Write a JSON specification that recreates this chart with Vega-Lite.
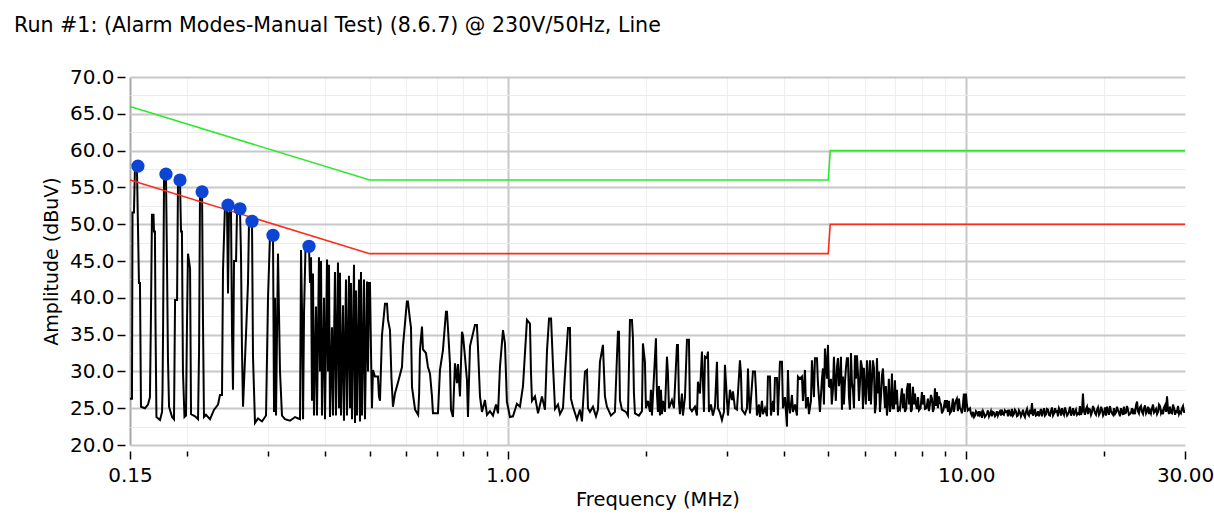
{
  "$schema": "https://vega.github.io/schema/vega-lite/v6.json",
  "width": 1055,
  "height": 368,
  "autosize": {"type": "none"},
  "padding": {"left": 130, "top": 77, "right": 29, "bottom": 76},
  "background": "white",
  "config": {"view": {"stroke": null}, "font": "DejaVu Sans"},
  "title": {"text": "Run #1: (Alarm Modes-Manual Test) (8.6.7) @ 230V/50Hz, Line", "anchor": "start", "frame": "group", "dx": -116, "offset": 30, "fontSize": 20.6, "fontWeight": "normal", "font": "DejaVu Sans", "color": "black"},
  "datasets": {
    "spec": [
      {"f":0.1500,"a":26.3},{"f":0.1515,"a":26.3},{"f":0.1519,"a":51.6},{"f":0.1530,"a":51.6},{"f":0.1538,"a":57.9},{"f":0.1553,"a":57.9},{"f":0.1561,"a":50.0},{"f":0.1569,"a":42.0},{"f":0.1577,"a":42.0},{"f":0.1585,"a":25.2},{"f":0.1617,"a":25.0},{"f":0.1642,"a":25.5},{"f":0.1658,"a":26.5},{"f":0.1666,"a":37.0},{"f":0.1675,"a":51.3},{"f":0.1688,"a":51.3},{"f":0.1692,"a":49.0},{"f":0.1700,"a":49.0},{"f":0.1705,"a":36.5},{"f":0.1713,"a":23.8},{"f":0.1744,"a":23.4},{"f":0.1762,"a":24.5},{"f":0.1766,"a":27.3},{"f":0.1771,"a":35.6},{"f":0.1780,"a":56.8},{"f":0.1797,"a":56.8},{"f":0.1806,"a":45.2},{"f":0.1815,"a":31.8},{"f":0.1825,"a":25.2},{"f":0.1853,"a":23.8},{"f":0.1871,"a":23.5},{"f":0.1881,"a":39.7},{"f":0.1900,"a":39.7},{"f":0.1909,"a":56.0},{"f":0.1928,"a":56.0},{"f":0.1938,"a":49.0},{"f":0.1947,"a":49.0},{"f":0.1957,"a":30.0},{"f":0.1972,"a":23.8},{"f":0.1987,"a":24.0},{"f":0.1997,"a":36.4},{"f":0.2007,"a":46.0},{"f":0.2028,"a":44.0},{"f":0.2038,"a":24.2},{"f":0.2080,"a":23.9},{"f":0.2111,"a":23.5},{"f":0.2122,"a":33.0},{"f":0.2132,"a":54.4},{"f":0.2154,"a":54.4},{"f":0.2164,"a":37.0},{"f":0.2175,"a":23.8},{"f":0.2197,"a":24.1},{"f":0.2242,"a":23.5},{"f":0.2288,"a":24.8},{"f":0.2334,"a":25.5},{"f":0.2357,"a":26.8},{"f":0.2381,"a":26.8},{"f":0.2393,"a":43.8},{"f":0.2417,"a":52.6},{"f":0.2441,"a":52.6},{"f":0.2454,"a":40.6},{"f":0.2466,"a":51.5},{"f":0.2491,"a":51.9},{"f":0.2504,"a":35.0},{"f":0.2516,"a":27.5},{"f":0.2529,"a":45.0},{"f":0.2555,"a":45.0},{"f":0.2568,"a":52.1},{"f":0.2606,"a":52.1},{"f":0.2619,"a":46.0},{"f":0.2632,"a":33.0},{"f":0.2646,"a":25.2},{"f":0.2686,"a":35.0},{"f":0.2713,"a":42.0},{"f":0.2727,"a":50.4},{"f":0.2768,"a":50.4},{"f":0.2782,"a":32.0},{"f":0.2810,"a":23.0},{"f":0.2853,"a":23.6},{"f":0.2911,"a":23.2},{"f":0.2970,"a":24.0},{"f":0.3000,"a":40.0},{"f":0.3030,"a":48.5},{"f":0.3076,"a":48.5},{"f":0.3092,"a":24.5},{"f":0.3107,"a":40.0},{"f":0.3123,"a":24.0},{"f":0.3154,"a":46.0},{"f":0.3186,"a":30.0},{"f":0.3218,"a":24.0},{"f":0.3267,"a":23.5},{"f":0.3350,"a":23.3},{"f":0.3436,"a":23.8},{"f":0.3523,"a":23.5},{"f":0.3541,"a":46.5},{"f":0.3559,"a":38.0},{"f":0.3577,"a":23.5},{"f":0.3595,"a":38.0},{"f":0.3622,"a":47.0},{"f":0.3686,"a":47.0},{"f":0.3704,"a":42.0},{"f":0.3723,"a":45.5},{"f":0.3741,"a":26.0},{"f":0.3760,"a":43.3},{"f":0.3779,"a":24.0},{"f":0.3817,"a":38.8},{"f":0.3836,"a":24.0},{"f":0.3875,"a":45.5},{"f":0.3895,"a":30.0},{"f":0.3915,"a":45.0},{"f":0.3934,"a":24.0},{"f":0.3974,"a":40.0},{"f":0.3994,"a":23.5},{"f":0.4035,"a":45.2},{"f":0.4055,"a":30.0},{"f":0.4075,"a":44.5},{"f":0.4095,"a":23.8},{"f":0.4136,"a":36.0},{"f":0.4157,"a":24.0},{"f":0.4199,"a":43.5},{"f":0.4220,"a":24.0},{"f":0.4263,"a":44.8},{"f":0.4284,"a":25.0},{"f":0.4306,"a":43.4},{"f":0.4328,"a":24.0},{"f":0.4371,"a":39.0},{"f":0.4393,"a":23.3},{"f":0.4438,"a":42.5},{"f":0.4460,"a":24.0},{"f":0.4505,"a":43.0},{"f":0.4528,"a":25.0},{"f":0.4551,"a":42.0},{"f":0.4574,"a":23.5},{"f":0.4620,"a":44.5},{"f":0.4643,"a":23.0},{"f":0.4667,"a":41.0},{"f":0.4690,"a":24.0},{"f":0.4738,"a":42.5},{"f":0.4761,"a":23.2},{"f":0.4785,"a":43.5},{"f":0.4809,"a":24.0},{"f":0.4858,"a":42.5},{"f":0.4882,"a":23.5},{"f":0.4932,"a":42.2},{"f":0.4957,"a":30.0},{"f":0.4982,"a":42.0},{"f":0.5006,"a":42.0},{"f":0.5031,"a":33.0},{"f":0.5056,"a":25.0},
      {"f":0.5082,"a":30.2},{"f":0.5133,"a":29.3},{"f":0.5211,"a":29.3},{"f":0.5237,"a":26.6},{"f":0.5264,"a":26.0},{"f":0.5317,"a":34.9},{"f":0.5398,"a":39.2},{"f":0.5453,"a":39.2},{"f":0.5480,"a":37.0},{"f":0.5535,"a":35.6},{"f":0.5577,"a":29.0},{"f":0.5619,"a":25.2},{"f":0.5675,"a":27.0},{"f":0.5762,"a":28.5},{"f":0.5879,"a":30.6},{"f":0.5908,"a":33.4},{"f":0.6026,"a":39.5},{"f":0.6057,"a":39.5},{"f":0.6120,"a":37.0},{"f":0.6151,"a":36.0},{"f":0.6182,"a":27.9},{"f":0.6279,"a":24.8},{"f":0.6376,"a":24.1},{"f":0.6408,"a":27.0},{"f":0.6435,"a":32.9},{"f":0.6500,"a":36.1},{"f":0.6532,"a":33.0},{"f":0.6631,"a":32.5},{"f":0.6698,"a":30.6},{"f":0.6767,"a":29.7},{"f":0.6835,"a":26.6},{"f":0.6869,"a":24.3},{"f":0.7043,"a":24.3},{"f":0.7115,"a":30.2},{"f":0.7222,"a":32.9},{"f":0.7332,"a":38.1},{"f":0.7369,"a":38.1},{"f":0.7406,"a":35.9},{"f":0.7481,"a":31.1},{"f":0.7519,"a":24.8},{"f":0.7594,"a":23.8},{"f":0.7671,"a":31.1},{"f":0.7748,"a":28.4},{"f":0.7787,"a":31.0},{"f":0.7867,"a":26.6},{"f":0.7946,"a":35.4},{"f":0.7986,"a":34.9},{"f":0.8066,"a":32.0},{"f":0.8148,"a":28.8},{"f":0.8189,"a":23.8},{"f":0.8272,"a":33.4},{"f":0.8481,"a":36.3},{"f":0.8566,"a":36.3},{"f":0.8609,"a":33.4},{"f":0.8698,"a":26.6},{"f":0.8786,"a":24.5},{"f":0.8919,"a":26.1},{"f":0.9010,"a":24.1},{"f":0.9146,"a":24.6},{"f":0.9285,"a":24.0},{"f":0.9428,"a":25.5},{"f":0.9523,"a":24.3},{"f":0.9617,"a":30.6},{"f":0.9763,"a":35.6},{"f":0.9861,"a":33.8},{"f":0.9957,"a":25.9},{"f":1.0112,"a":23.8},{"f":1.0265,"a":23.9},{"f":1.0470,"a":25.6},{"f":1.0633,"a":25.2},{"f":1.0795,"a":28.0},{"f":1.1013,"a":37.0},{"f":1.1180,"a":36.5},{"f":1.1236,"a":30.0},{"f":1.1293,"a":26.0},{"f":1.1466,"a":26.6},{"f":1.1641,"a":24.3},{"f":1.1874,"a":26.6},{"f":1.2056,"a":24.8},
      {"f":1.2180,"a":32.9},{"f":1.2305,"a":37.2},{"f":1.2429,"a":37.2},{"f":1.2556,"a":30.6},{"f":1.2680,"a":24.9},{"f":1.2870,"a":25.5},{"f":1.2998,"a":24.2},{"f":1.3195,"a":25.0},{"f":1.3331,"a":29.7},{"f":1.3534,"a":35.9},{"f":1.3667,"a":35.9},{"f":1.3736,"a":26.3},{"f":1.3874,"a":25.2},{"f":1.4155,"a":23.5},{"f":1.4371,"a":24.8},{"f":1.4516,"a":23.2},{"f":1.4739,"a":30.0},{"f":1.4886,"a":30.2},{"f":1.4962,"a":25.0},{"f":1.5111,"a":24.5},{"f":1.5340,"a":25.2},{"f":1.5574,"a":23.9},{"f":1.5732,"a":24.8},{"f":1.5889,"a":31.3},{"f":1.6129,"a":33.6},{"f":1.6292,"a":26.6},{"f":1.6455,"a":25.2},{"f":1.6791,"a":24.0},{"f":1.7130,"a":24.5},{"f":1.7306,"a":32.0},{"f":1.7393,"a":35.4},{"f":1.7480,"a":35.4},{"f":1.7568,"a":26.1},{"f":1.7745,"a":24.8},{"f":1.8101,"a":24.5},{"f":1.8288,"a":24.0},{"f":1.8473,"a":37.0},{"f":1.8659,"a":37.0},{"f":1.8753,"a":34.5},{"f":1.8847,"a":27.0},{"f":1.8942,"a":24.3},{"f":1.9326,"a":24.0},{"f":1.9620,"a":24.6},{"f":1.9717,"a":33.8},{"f":1.9914,"a":31.3},{"f":2.0016,"a":25.0},{"f":2.0220,"a":26.0},{"f":2.0424,"a":24.5},{"f":2.0527,"a":27.5},{"f":2.0630,"a":24.0},{"f":2.0839,"a":29.3},{"f":2.1048,"a":34.5},{"f":2.1154,"a":27.0},{"f":2.1260,"a":24.5},{"f":2.1368,"a":28.0},{"f":2.1476,"a":24.0},{"f":2.1584,"a":27.5},{"f":2.1692,"a":24.2},{"f":2.1802,"a":26.0},{"f":2.2020,"a":24.5},{"f":2.2245,"a":32.0},{"f":2.2357,"a":29.7},{"f":2.2469,"a":25.0},{"f":2.2810,"a":26.1},{"f":2.3040,"a":25.0},{"f":2.3390,"a":33.6},{"f":2.3507,"a":33.6},{"f":2.3625,"a":26.0},{"f":2.3745,"a":24.2},{"f":2.3985,"a":27.0},{"f":2.4105,"a":24.0},{"f":2.4351,"a":26.5},{"f":2.4596,"a":34.3},{"f":2.4842,"a":34.3},{"f":2.4968,"a":25.0},{"f":2.5220,"a":24.6},{"f":2.5604,"a":25.2},{"f":2.5860,"a":24.0},{"f":2.5990,"a":28.6},{"f":2.6254,"a":27.0},{"f":2.6519,"a":32.7},{"f":2.6787,"a":24.5},{"f":2.6924,"a":32.0},{"f":2.7194,"a":31.8},{"f":2.7331,"a":32.7},{"f":2.7467,"a":24.5},{"f":2.7745,"a":25.5},{"f":2.8024,"a":24.0},{"f":2.8310,"a":25.2},{"f":2.8595,"a":31.3},{"f":2.8738,"a":25.0},{"f":2.9027,"a":24.4},{"f":2.9320,"a":23.4},{"f":2.9617,"a":24.5},{"f":2.9766,"a":30.9},{"f":3.0066,"a":26.1},{"f":3.0217,"a":24.0},{"f":3.0523,"a":27.5},{"f":3.0830,"a":26.1},{"f":3.0987,"a":27.3},{"f":3.1302,"a":25.0},{"f":3.1617,"a":24.8},{"f":3.2095,"a":31.5},{"f":3.2257,"a":29.7},{"f":3.2419,"a":24.8},{"f":3.2914,"a":24.2},{"f":3.3246,"a":25.0},{"f":3.3412,"a":30.4},{"f":3.3580,"a":26.5},{"f":3.3748,"a":24.3},{"f":3.4261,"a":30.0},{"f":3.4609,"a":30.0},{"f":3.4782,"a":27.5},{"f":3.4956,"a":24.0},{"f":3.5308,"a":25.5},{"f":3.5486,"a":23.8},{"f":3.5845,"a":26.0},{"f":3.6022,"a":24.2},{"f":3.6392,"a":25.0},{"f":3.6756,"a":23.9},{"f":3.6942,"a":29.3},{"f":3.7314,"a":29.3},{"f":3.7502,"a":24.0},{"f":3.7881,"a":26.0},{"f":3.8071,"a":24.5},{"f":3.8264,"a":29.1},{"f":3.8650,"a":29.1},{"f":3.8844,"a":24.0},{"f":3.9235,"a":31.3},{"f":3.9631,"a":31.3},{"f":3.9831,"a":25.0},{"f":4.0236,"a":26.5},{"f":4.0639,"a":22.5},{"f":4.0844,"a":30.2},{"f":4.1050,"a":25.5},{"f":4.1256,"a":24.3},{"f":4.1673,"a":26.8},{"f":4.1883,"a":24.5},{"f":4.2307,"a":25.5},{"f":4.2734,"a":24.0},{"f":4.2948,"a":29.3},{"f":4.3381,"a":29.0},{"f":4.3818,"a":29.3},{"f":4.4038,"a":26.0},{"f":4.4487,"a":30.2},{"f":4.4710,"a":25.0},{"f":4.5160,"a":26.5},{"f":4.5389,"a":24.2},{"f":4.5845,"a":26.0},{"f":4.6075,"a":31.5},{"f":4.6540,"a":26.5},{"f":4.6776,"a":31.8},{"f":4.7250,"a":31.8},{"f":4.7486,"a":28.4},{"f":4.7964,"a":24.5},{"f":4.8449,"a":29.0},{"f":4.8693,"a":30.4},{"f":4.8937,"a":25.5},{"f":4.9182,"a":33.1},{"f":4.9680,"a":29.0},{"f":4.9932,"a":33.6},{"f":5.0180,"a":28.0},{"f":5.0433,"a":27.9},
      {"f":5.0687,"a":29.0},{"f":5.1199,"a":27.5},{"f":5.1718,"a":28.5},{"f":5.2240,"a":30.6},{"f":5.2503,"a":31.8},{"f":5.2767,"a":28.0},{"f":5.3031,"a":29.0},{"f":5.3566,"a":24.8},{"f":5.3836,"a":29.3},{"f":5.4380,"a":28.5},{"f":5.4930,"a":31.8},{"f":5.5206,"a":31.8},{"f":5.5484,"a":26.5},{"f":5.5762,"a":24.8},{"f":5.6325,"a":28.5},{"f":5.6609,"a":27.5},{"f":5.7183,"a":32.2},{"f":5.7759,"a":32.2},{"f":5.8050,"a":29.7},{"f":5.8634,"a":28.4},{"f":5.9225,"a":30.6},{"f":5.9524,"a":24.9},{"f":6.0129,"a":27.5},{"f":6.0737,"a":31.5},{"f":6.1042,"a":29.0},{"f":6.1653,"a":31.5},{"f":6.1963,"a":25.5},{"f":6.2574,"a":31.5},{"f":6.3224,"a":24.3},{"f":6.3862,"a":31.8},{"f":6.4184,"a":27.0},{"f":6.4828,"a":24.5},{"f":6.5154,"a":26.5},{"f":6.5821,"a":30.4},{"f":6.6149,"a":27.5},{"f":6.6482,"a":25.0},{"f":6.7151,"a":24.0},{"f":6.8167,"a":24.5},{"f":6.8853,"a":29.7},{"f":6.9199,"a":25.0},{"f":6.9899,"a":28.8},{"f":7.0251,"a":25.5},{"f":7.0964,"a":24.5},{"f":7.1677,"a":24.8},{"f":7.2400,"a":27.7},{"f":7.2764,"a":25.0},{"f":7.3504,"a":24.5},{"f":7.4614,"a":28.4},{"f":7.4991,"a":25.5},{"f":7.5369,"a":28.4},{"f":7.5749,"a":24.5},{"f":7.6519,"a":27.9},{"f":7.6898,"a":25.5},{"f":7.7677,"a":25.5},{"f":7.8068,"a":24.9},{"f":7.8859,"a":24.7},{"f":8.0050,"a":27.2},{"f":8.0450,"a":25.5},{"f":8.1270,"a":24.9},{"f":8.2491,"a":26.3},{"f":8.3330,"a":25.5},{"f":8.4170,"a":26.3},{"f":8.5020,"a":25.0},{"f":8.5450,"a":27.7},{"f":8.6310,"a":27.2},{"f":8.6745,"a":25.0},{"f":8.7620,"a":25.8},{"f":8.8500,"a":24.3},{"f":8.9850,"a":26.1},{"f":9.0750,"a":26.1},{"f":9.1210,"a":24.5},{"f":9.2130,"a":24.3},{"f":9.3520,"a":26.3},{"f":9.4460,"a":25.5},{"f":9.5410,"a":26.3},{"f":9.5890,"a":24.6},{"f":9.6870,"a":25.0},{"f":9.7840,"a":24.3},{"f":9.8830,"a":27.0},{"f":9.9830,"a":27.0},{"f":10.03,"a":25.5},{"f":10.08,"a":24.7},
      {"f":5.09,"a":25.5},{"f":5.145,"a":32.0},{"f":5.195,"a":26.0},{"f":5.33,"a":32.0},{"f":5.41,"a":25.5},{"f":5.465,"a":30.5},{"f":5.605,"a":32.5},{"f":5.69,"a":25.0},{"f":5.745,"a":29.0},{"f":5.835,"a":26.0},{"f":5.89,"a":31.5},{"f":5.98,"a":30.5},{"f":6.04,"a":25.5},{"f":6.135,"a":26.0},{"f":6.22,"a":28.0},{"f":6.29,"a":30.5},{"f":6.355,"a":25.5},{"f":6.45,"a":30.0},{"f":6.55,"a":29.5},{"f":6.68,"a":28.0},{"f":6.75,"a":26.0},{"f":6.78,"a":29.0},{"f":6.85,"a":25.5},{"f":6.955,"a":25.0},{"f":7.06,"a":27.5},{"f":7.13,"a":25.0},{"f":7.205,"a":26.5},{"f":7.31,"a":27.0},{"f":7.40,"a":25.0},{"f":7.42,"a":27.5},{"f":7.61,"a":24.8},{"f":7.73,"a":27.0},{"f":7.85,"a":26.5},{"f":7.95,"a":25.0},{"f":8.09,"a":26.8},{"f":8.19,"a":25.0},{"f":8.29,"a":24.6},{"f":8.375,"a":26.8},{"f":8.46,"a":24.5},{"f":8.59,"a":25.3},{"f":8.72,"a":26.6},{"f":8.81,"a":25.5},{"f":8.92,"a":24.8},{"f":9.03,"a":25.0},{"f":9.17,"a":26.0},{"f":9.28,"a":24.6},{"f":9.40,"a":24.5},{"f":9.49,"a":26.0},{"f":9.64,"a":26.3},{"f":9.735,"a":24.8},{"f":9.83,"a":25.4},{"f":9.93,"a":24.5},
      {"f":10.19,"a":25.0},{"f":10.29,"a":24.0},{"f":10.40,"a":23.8},{"f":10.50,"a":24.6},{"f":10.61,"a":23.9},{"f":10.71,"a":24.1},{"f":10.82,"a":23.7},{"f":10.93,"a":24.3},{"f":11.04,"a":24.0},{"f":11.15,"a":24.7},{"f":11.26,"a":24.2},{"f":11.37,"a":23.9},{"f":11.49,"a":24.4},{"f":11.61,"a":24.1},{"f":11.72,"a":24.0},{"f":11.84,"a":24.6},{"f":11.96,"a":24.8},{"f":12.08,"a":24.1},{"f":12.20,"a":24.5},{"f":12.33,"a":23.9},{"f":12.45,"a":24.3},{"f":12.58,"a":24.9},{"f":12.70,"a":24.2},{"f":12.83,"a":24.6},{"f":12.96,"a":24.0},{"f":13.10,"a":24.4},{"f":13.23,"a":24.3},{"f":13.36,"a":24.1},{"f":13.50,"a":24.5},{"f":13.63,"a":24.2},{"f":13.77,"a":24.8},{"f":13.91,"a":25.7},{"f":14.05,"a":24.3},{"f":14.19,"a":24.0},{"f":14.34,"a":24.6},{"f":14.48,"a":24.4},{"f":14.63,"a":23.9},{"f":14.78,"a":25.0},{"f":14.93,"a":24.2},{"f":15.08,"a":24.8},{"f":15.23,"a":24.0},{"f":15.38,"a":25.1},{"f":15.54,"a":24.3},{"f":15.70,"a":24.5},{"f":15.85,"a":23.9},{"f":16.01,"a":24.7},{"f":16.18,"a":25.0},{"f":16.34,"a":24.1},{"f":16.50,"a":24.6},{"f":16.67,"a":24.2},{"f":16.84,"a":25.2},{"f":17.01,"a":24.4},{"f":17.18,"a":24.0},{"f":17.35,"a":24.8},{"f":17.53,"a":24.3},{"f":17.70,"a":25.3},{"f":17.88,"a":24.5},{"f":17.97,"a":27.0},{"f":18.06,"a":24.6},{"f":18.25,"a":24.9},{"f":18.43,"a":24.2},{"f":18.62,"a":24.8},{"f":18.81,"a":24.5},{"f":19.00,"a":24.9},{"f":19.19,"a":24.1},{"f":19.38,"a":25.1},{"f":19.58,"a":24.4},{"f":19.78,"a":24.8},{"f":19.98,"a":24.3},{"f":20.18,"a":24.0},{"f":20.38,"a":24.6},{"f":20.58,"a":25.3},{"f":20.79,"a":24.3},{"f":21.00,"a":25.0},{"f":21.21,"a":24.4},{"f":21.43,"a":24.7},{"f":21.64,"a":23.9},{"f":21.86,"a":24.5},{"f":22.08,"a":25.2},{"f":22.31,"a":24.4},{"f":22.53,"a":24.8},{"f":22.76,"a":24.2},{"f":22.99,"a":25.0},{"f":23.22,"a":24.6},{"f":23.46,"a":25.4},{"f":23.58,"a":25.9},{"f":23.69,"a":24.6},{"f":23.93,"a":25.1},{"f":24.17,"a":24.5},{"f":24.42,"a":25.0},{"f":24.67,"a":24.3},{"f":24.92,"a":25.2},{"f":25.16,"a":24.7},{"f":25.42,"a":25.0},{"f":25.68,"a":24.4},{"f":25.94,"a":24.9},{"f":26.20,"a":24.5},{"f":26.46,"a":25.3},{"f":26.73,"a":24.6},{"f":27.00,"a":25.1},{"f":27.27,"a":24.5},{"f":27.41,"a":26.6},{"f":27.55,"a":24.7},{"f":27.82,"a":25.2},{"f":28.11,"a":24.3},{"f":28.39,"a":25.0},{"f":28.68,"a":24.6},{"f":28.97,"a":25.3},{"f":29.25,"a":24.5},{"f":29.55,"a":25.0},{"f":29.85,"a":24.4},{"f":30.0,"a":24.8},
      {"f":10.24,"a":24.3},{"f":10.35,"a":24.5},{"f":10.45,"a":24.0},{"f":10.56,"a":24.4},{"f":10.66,"a":24.6},{"f":10.77,"a":24.4},{"f":10.88,"a":24.6},{"f":10.98,"a":23.8},{"f":11.10,"a":24.3},{"f":11.21,"a":23.9},{"f":11.32,"a":24.6},{"f":11.43,"a":24.5},{"f":11.55,"a":23.9},{"f":11.66,"a":24.6},{"f":11.78,"a":24.4},{"f":11.90,"a":24.0},{"f":12.02,"a":24.2},{"f":12.14,"a":24.7},{"f":12.27,"a":24.6},{"f":12.39,"a":24.8},{"f":12.51,"a":23.9},{"f":12.64,"a":24.0},{"f":12.77,"a":24.8},{"f":12.90,"a":23.9},{"f":13.03,"a":24.7},{"f":13.16,"a":23.9},{"f":13.30,"a":24.8},{"f":13.43,"a":23.8},{"f":13.57,"a":24.9},{"f":13.70,"a":24.0},{"f":13.84,"a":24.2},{"f":13.98,"a":24.0},{"f":14.12,"a":24.9},{"f":14.27,"a":24.1},{"f":14.41,"a":23.9},{"f":14.55,"a":24.9},{"f":14.70,"a":24.5},{"f":14.85,"a":24.0},{"f":15.00,"a":24.9},{"f":15.15,"a":24.1},{"f":15.30,"a":24.6},{"f":15.46,"a":24.0},{"f":15.62,"a":25.0},{"f":15.78,"a":24.6},{"f":15.93,"a":25.0},{"f":16.10,"a":24.0},{"f":16.26,"a":24.4},{"f":16.42,"a":25.1},{"f":16.59,"a":24.0},{"f":16.76,"a":24.6},{"f":16.92,"a":24.0},{"f":17.10,"a":25.0},{"f":17.27,"a":24.5},{"f":17.44,"a":24.1},{"f":17.62,"a":24.2},{"f":17.79,"a":24.1},{"f":18.15,"a":24.1},{"f":18.34,"a":25.2},{"f":18.52,"a":24.9},{"f":18.71,"a":24.1},{"f":18.90,"a":25.3},{"f":19.10,"a":24.3},{"f":19.29,"a":24.8},{"f":19.48,"a":24.1},{"f":19.68,"a":25.2},{"f":19.88,"a":24.0},{"f":20.08,"a":25.1},{"f":20.28,"a":25.2},{"f":20.48,"a":24.1},{"f":20.69,"a":24.6},{"f":20.90,"a":24.1},{"f":21.11,"a":24.2},{"f":21.32,"a":25.2},{"f":21.53,"a":24.4},{"f":21.75,"a":25.0},{"f":21.97,"a":24.1},{"f":22.19,"a":24.3},{"f":22.42,"a":25.3},{"f":22.64,"a":24.1},{"f":22.87,"a":24.4},{"f":23.10,"a":24.2},{"f":23.34,"a":24.2},{"f":23.81,"a":24.3},{"f":24.05,"a":25.3},{"f":24.30,"a":24.2},{"f":24.54,"a":25.4},{"f":24.79,"a":24.6},{"f":25.04,"a":24.2},{"f":25.29,"a":24.3},{"f":25.55,"a":25.5},{"f":25.81,"a":24.6},{"f":26.07,"a":24.2},{"f":26.33,"a":25.5},{"f":26.60,"a":24.3},{"f":26.87,"a":24.2},{"f":27.14,"a":25.4},{"f":27.69,"a":24.2},{"f":27.96,"a":24.4},{"f":28.25,"a":25.5},{"f":28.54,"a":24.1},{"f":28.82,"a":24.5},{"f":29.11,"a":24.2},{"f":29.40,"a":24.3},{"f":29.70,"a":25.3}
    ],
    "qp": [{"f":0.15,"a":66},{"f":0.5,"a":56},{"f":5.0,"a":56},{"f":5.05,"a":60},{"f":30,"a":60}],
    "av": [{"f":0.15,"a":56},{"f":0.5,"a":46},{"f":5.0,"a":46},{"f":5.05,"a":50},{"f":30,"a":50}],
    "pk": [{"f":0.1561,"a":57.9},{"f":0.1797,"a":56.8},{"f":0.1928,"a":56.0},{"f":0.2154,"a":54.4},{"f":0.2454,"a":52.6},{"f":0.2606,"a":52.1},{"f":0.2768,"a":50.4},{"f":0.3076,"a":48.5},{"f":0.3686,"a":47.0}]
  },
  "encoding": {
    "x": {
      "field": "f", "type": "quantitative",
      "scale": {"type": "log", "domain": [0.15, 30], "nice": false},
      "axis": {
        "title": "Frequency (MHz)",
        "values": [0.15,0.2,0.3,0.4,0.5,0.6,0.7,0.8,0.9,1,2,3,4,5,6,7,8,9,10,20,30],
        "labelExpr": "(datum.value==0.15||datum.value==1||datum.value==10||datum.value==30) ? format(datum.value,'.2f') : ''",
        "domain": false,
        "offset": 6,
        "tickColor": "black",
        "tickWidth": 1.5,
        "tickSize": {"condition": {"test": "datum.value==0.15||datum.value==1||datum.value==10||datum.value==30", "value": 8}, "value": 5},
        "labelFontSize": 20, "labelFont": "DejaVu Sans", "labelColor": "black", "labelPadding": 6, "labelFlush": false, "labelOverlap": false,
        "titleFontSize": 19.5, "titleFont": "DejaVu Sans", "titleFontWeight": "normal", "titleColor": "black", "titlePadding": 5,
        "grid": true,
        "gridColor": {"condition": [{"test": "datum.value==0.15", "value": "#a8a8a8"}, {"test": "datum.value==1||datum.value==10", "value": "#c8c8c8"}, {"test": "datum.value==30", "value": "transparent"}], "value": "#efefef"},
        "gridWidth": {"condition": {"test": "datum.value==0.15||datum.value==1||datum.value==10", "value": 2}, "value": 1}
      }
    },
    "y": {
      "field": "a", "type": "quantitative",
      "scale": {"domain": [20, 70], "nice": false, "zero": false},
      "axis": {
        "title": "Amplitude (dBuV)",
        "values": [20,22.5,25,27.5,30,32.5,35,37.5,40,42.5,45,47.5,50,52.5,55,57.5,60,62.5,65,67.5,70],
        "labelExpr": "datum.value % 5 == 0 ? format(datum.value, '.1f') : ''",
        "domain": false,
        "offset": 5,
        "tickColor": "black",
        "tickWidth": 1.5,
        "tickSize": 8,
        "tickOpacity": {"condition": {"test": "datum.value % 5 != 0", "value": 0}, "value": 1},
        "labelFontSize": 20, "labelFont": "DejaVu Sans", "labelColor": "black", "labelPadding": 3, "labelFlush": false, "labelOverlap": false,
        "titleFontSize": 19, "titleFont": "DejaVu Sans", "titleFontWeight": "normal", "titleColor": "black", "titlePadding": 8,
        "grid": true,
        "gridColor": {"condition": {"test": "datum.value % 5 != 0", "value": "#ebebeb"}, "value": "#c8c8c8"},
        "gridWidth": {"condition": {"test": "datum.value % 5 != 0", "value": 1}, "value": 2}
      }
    }
  },
  "layer": [
    {"data": {"name": "spec"}, "mark": {"type": "line", "color": "black", "strokeWidth": 2, "clip": true}},
    {"data": {"name": "qp"}, "mark": {"type": "line", "color": "#2ee82e", "strokeWidth": 1.6}},
    {"data": {"name": "av"}, "mark": {"type": "line", "color": "#ff2a1a", "strokeWidth": 1.6}},
    {"data": {"name": "pk"}, "mark": {"type": "point", "filled": true, "color": "#0c44d4", "size": 175, "opacity": 1}}
  ]
}
